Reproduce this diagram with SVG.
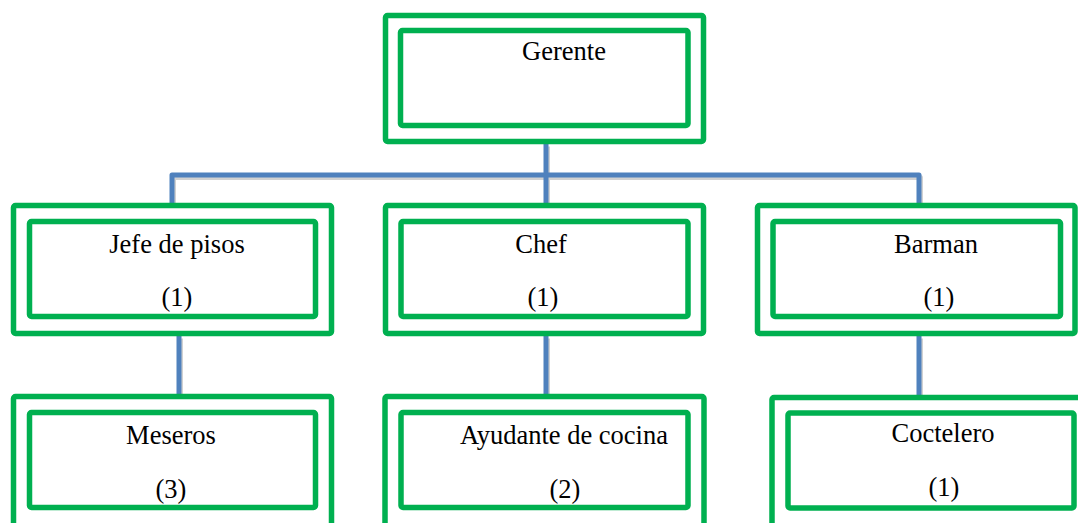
<svg xmlns="http://www.w3.org/2000/svg" width="1078" height="523" viewBox="0 0 1078 523">
<style>
.box{fill:#fff;stroke:#00B050;stroke-width:5.5}
.in{fill:none;stroke:#00B050;stroke-width:5.5}
.ln{fill:none;stroke:#4F81BD;stroke-width:5;stroke-linejoin:round}
.sh{fill:none;stroke:#000;stroke-opacity:0.18;stroke-width:5;stroke-linejoin:round}
text{font-family:"Liberation Serif","Times New Roman",serif;font-size:26.5px;fill:#000;text-anchor:middle}
</style>
<rect width="1078" height="523" fill="#fff"/>
<g id="connectors">
<g transform="translate(1.5,2.5)">
<path class="sh" d="M546,144 V205 M172,205 V175 H919 V205 M179,336 V394 M546,336 V394 M919,336 V395"/>
</g>
<path class="ln" d="M546,144 V205 M172,205 V175 H919 V205 M179,336 V394 M546,336 V394 M919,336 V395"/>
</g>
<g id="gerente">
<rect class="box" x="385.5" y="15.5" width="318" height="126" rx="2"/>
<rect class="in" x="400.5" y="30.5" width="287.5" height="95" rx="2"/>
<text x="564" y="60">Gerente</text>
</g>
<g id="jefe">
<rect class="box" x="13.5" y="205.5" width="318" height="128" rx="2"/>
<rect class="in" x="29.5" y="221.5" width="286" height="95" rx="2"/>
<text x="177" y="253">Jefe de pisos</text>
<text x="177" y="306">(1)</text>
</g>
<g id="chef">
<rect class="box" x="385.5" y="205.5" width="318" height="128" rx="2"/>
<rect class="in" x="401" y="221.5" width="287" height="95" rx="2"/>
<text x="541" y="253">Chef</text>
<text x="543" y="306">(1)</text>
</g>
<g id="barman">
<rect class="box" x="757.5" y="205.5" width="317.5" height="128" rx="2"/>
<rect class="in" x="773" y="221.5" width="287.5" height="95" rx="2"/>
<text x="936" y="253">Barman</text>
<text x="939" y="306">(1)</text>
</g>
<g id="meseros">
<rect class="box" x="13.5" y="396.5" width="318" height="140" rx="2"/>
<rect class="in" x="29.5" y="412.5" width="286" height="95" rx="2"/>
<text x="171" y="444">Meseros</text>
<text x="171" y="498">(3)</text>
</g>
<g id="ayudante">
<rect class="box" x="385" y="396.5" width="319" height="140" rx="2"/>
<rect class="in" x="401" y="412.5" width="287" height="95" rx="2"/>
<text x="564" y="444">Ayudante de cocina</text>
<text x="565" y="498">(2)</text>
</g>
<g id="coctelero">
<rect class="box" x="772" y="397.5" width="320" height="140" rx="2"/>
<rect class="in" x="788" y="413" width="286" height="95" rx="2"/>
<text x="943" y="442">Coctelero</text>
<text x="944" y="496">(1)</text>
</g>
</svg>
